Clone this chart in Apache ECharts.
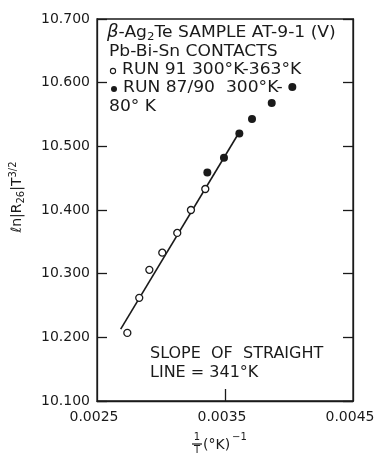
<!DOCTYPE html>
<html>
<head>
<meta charset="utf-8">
<script src="https://cdn.jsdelivr.net/npm/echarts@6/dist/echarts.min.js"></script>
<style>
  html, body { margin: 0; background: #fff; }
  #chart { width: 378px; height: 454px; }
</style>
</head>
<body>
<div id="chart"></div>
<script>
// run 91, 300K-363K (open circles)
const run91 = [
  [0.002737, 10.207], [0.002830, 10.262], [0.002909, 10.306], [0.003010, 10.333],
  [0.003127, 10.364], [0.003234, 10.400], [0.003346, 10.433]
];
// run 87/90, 300K-80K (filled)
const run8790 = [
  [0.003362, 10.459], [0.003492, 10.482], [0.003612, 10.520],
  [0.003711, 10.543], [0.003865, 10.568], [0.004026, 10.593]
];
// straight line, ends
const fitLine = [[0.002685, 10.213], [0.003596, 10.517]];

const xLabels = [0.0025, 0.0035, 0.0045];
const xTicks = [0.0035];
const yMin = 10.1, yMax = 10.7, yStep = 0.1;

const ink = '#1a1a1a';
const font = 'DejaVu Sans';

let chart = echarts.init(document.getElementById('chart'));

let yAxisBase = {
  type: 'value',
  min: yMin,
  max: yMax,
  interval: yStep,
  splitLine: { show: false },
  axisLine: { show: true, lineStyle: { color: ink, width: 1.3 } },
  axisTick: { show: true, inside: true, length: 10, lineStyle: { color: ink, width: 1.3 } }
};

function note(x, y, text, rich) {
  return {
    type: 'text', x: x, y: y, scaleX: 1.07,
    style: {
      text: text, verticalAlign: 'middle',
      fontFamily: font, fontSize: 16, fill: ink,
      rich: rich
    }
  };
}

let option = {
  animation: false,
  backgroundColor: '#fff',
  grid: {
    left: 97, right: 25, top: 19, bottom: 53,
    show: true, borderColor: ink, borderWidth: 1.3
  },
  xAxis: {
    type: 'value',
    min: 0.0025,
    max: 0.0045,
    interval: 0.0005,
    splitLine: { show: false },
    axisLine: { show: true, lineStyle: { color: ink, width: 1.3 } },
    axisTick: {
      show: true, inside: true, length: 12,
      customValues: xTicks,
      lineStyle: { color: ink, width: 1.3 }
    },
    axisLabel: {
      customValues: xLabels,
      formatter: v => v.toFixed(4),
      fontFamily: font, fontSize: 14, color: ink, margin: 9,
      padding: [0, 6, 0, 0]
    }
  },
  yAxis: [
    Object.assign({}, yAxisBase, {
      position: 'left',
      axisLabel: {
        formatter: v => v.toFixed(3),
        fontFamily: font, fontSize: 14, color: ink, margin: 7
      }
    }),
    Object.assign({}, yAxisBase, {
      position: 'right',
      axisLabel: { show: false }
    })
  ],
  series: [
    {
      type: 'line',
      data: fitLine,
      showSymbol: false,
      lineStyle: { color: ink, width: 1.6 },
      z: 1
    },
    {
      type: 'scatter',
      name: 'RUN 91',
      data: run91,
      symbol: 'circle',
      symbolSize: 7,
      itemStyle: { color: '#fff', borderColor: ink, borderWidth: 1.3, opacity: 1 },
      z: 3
    },
    {
      type: 'scatter',
      name: 'RUN 87/90',
      data: run8790,
      symbol: 'circle',
      symbolSize: 8,
      itemStyle: { color: ink, opacity: 1 },
      z: 3
    }
  ],
  graphic: [
    // notes in the plot
    note(107, 33, '{b|β}-Ag{s|2}Te SAMPLE AT-9-1 (V)', {
      b: { fontFamily: font, fontSize: 17, fontStyle: 'italic', fill: ink },
      s: { fontFamily: font, fontSize: 11, fill: ink, padding: [9, 0, 0, 0] }
    }),
    note(109, 52, 'Pb-Bi-Sn CONTACTS'),
    { type: 'circle', shape: { cx: 113, cy: 71, r: 2.6 }, style: { fill: '#fff', stroke: ink, lineWidth: 1.1 } },
    note(122, 70, 'RUN 91 300°K-363°K'),
    { type: 'circle', shape: { cx: 114, cy: 89, r: 3 }, style: { fill: ink } },
    note(123, 88, 'RUN 87/90  300°K-'),
    note(109, 107, '80° K'),
    { type: 'text', x: 150, y: 354, style: { text: 'SLOPE  OF  STRAIGHT', verticalAlign: 'middle', fontFamily: font, fontSize: 16, fill: ink } },
    { type: 'text', x: 150, y: 373, style: { text: 'LINE = 341°K', verticalAlign: 'middle', fontFamily: font, fontSize: 16, fill: ink } },
    // y axis title
    {
      type: 'text', x: 17, y: 197, rotation: Math.PI / 2,
      style: {
        text: 'ℓn|R{s|26}|T{p|3/2}',
        align: 'center', verticalAlign: 'middle',
        fontFamily: font, fontSize: 14, fill: ink,
        rich: {
          s: { fontFamily: font, fontSize: 10, fill: ink, padding: [8, 0, 0, 0] },
          p: { fontFamily: font, fontSize: 10, fill: ink, padding: [0, 0, 8, 0] }
        }
      }
    },
    // x axis title
    { type: 'text', x: 197, y: 437, style: { text: '1', align: 'center', verticalAlign: 'middle', fontFamily: font, fontSize: 10, fill: ink } },
    { type: 'line', shape: { x1: 192, y1: 444, x2: 202, y2: 444 }, style: { stroke: ink, lineWidth: 1.2 } },
    { type: 'text', x: 197, y: 450, style: { text: 'T', align: 'center', verticalAlign: 'middle', fontFamily: font, fontSize: 10, fill: ink } },
    { type: 'text', x: 203, y: 445, style: { text: '(°K)', verticalAlign: 'middle', fontFamily: font, fontSize: 14, fill: ink } },
    { type: 'text', x: 232, y: 437, style: { text: '−1', verticalAlign: 'middle', fontFamily: font, fontSize: 10, fill: ink } }
  ]
};

chart.setOption(option);
</script>
</body>
</html>
